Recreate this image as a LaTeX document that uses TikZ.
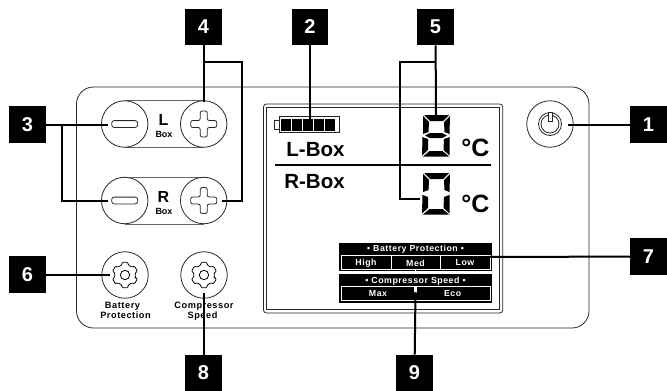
\documentclass[tikz,border=0pt]{standalone}
\usepackage{fontspec}
\setmainfont{Liberation Sans}
\newfontfamily\spacedfont[LetterSpace=6]{Liberation Sans}
\usetikzlibrary{calc}

\tikzset{
    tagbox/.style={fill=black,text=white,minimum size=36.5pt,inner sep=0pt,font=\bfseries\fontsize{20}{20}\selectfont},
    leader/.style={line width=2pt,black},
    button/.style={circle,draw=black!85,line width=0.8pt,minimum size=46.5pt,inner sep=0pt},
    outline/.style={draw=black!85,line width=0.8pt},
    lcdtext/.style={inner sep=0pt,anchor=base,font=\bfseries\fontsize{20.5}{20.5}\selectfont},
    smalltext/.style={inner sep=0pt,anchor=base,font=\spacedfont\bfseries\fontsize{9.2}{9.2}\selectfont},
    paneltext/.style={inner sep=0pt,text=white,font=\spacedfont\bfseries\fontsize{8.8}{8.8}\selectfont}
}

% one digit of the display: corner at (#1,#2), #3 = 1 draws the middle bar
\newcommand{\sevenseg}[3]{
    \fill[black] (#1+2,#2) -- (#1+27,#2) -- (#1+21,#2+6) -- (#1+8,#2+6) -- cycle;
    \fill[black] (#1+28,#2+1) -- (#1+27.5,#2+19) -- (#1+22.5,#2+17) -- (#1+22,#2+7) -- cycle;
    \fill[black] (#1+1,#2+1) -- (#1+7,#2+7) -- (#1+6.5,#2+17) -- (#1+1,#2+19) -- cycle;
    \fill[black] (#1+27.5,#2+22) -- (#1+27.5,#2+40.5) -- (#1+21.5,#2+35) -- (#1+22,#2+24) -- cycle;
    \fill[black] (#1+0.5,#2+22) -- (#1+6,#2+24) -- (#1+6,#2+35) -- (#1,#2+40.5) -- cycle;
    \fill[black] (#1+7.5,#2+36) -- (#1+20.5,#2+36) -- (#1+27,#2+41.5) -- (#1+1,#2+41.5) -- cycle;
    \ifnum#3=1
    \fill[black] (#1+3,#2+20.5) -- (#1+8,#2+18) -- (#1+20,#2+18) -- (#1+25,#2+20.5) -- (#1+20,#2+23) -- (#1+8,#2+23) -- cycle;
    \fi
}

% gear icon round (#1,#2)
\newcommand{\gearicon}[2]{
    \draw[line width=0.8pt,rounded corners=1pt]
        ($(#1,#2)+(15:10.5)$)
        \foreach \a in {30,90,...,330}{
            -- ($(#1,#2)+(\a-13:13)$) -- ($(#1,#2)+(\a+13:13)$) -- ($(#1,#2)+(\a+18:10.5)$) -- ($(#1,#2)+(\a+42:10.5)$)
        } -- cycle;
    \draw[line width=0.8pt] (#1,#2) circle (4.7);
}

\begin{document}
\begin{tikzpicture}[x=1pt,y=-1pt]
    \useasboundingbox (0,0) rectangle (667,391);

    % front panel
    \draw[outline,rounded corners=17pt] (76.5,87) rectangle (589,328);

    % buttons
    \draw[outline,draw=black!60] (125,100.5)--(204,100.5) (125,147.5)--(204,147.5);
    \draw[outline,draw=black!60] (125,177)--(204,177) (125,224)--(204,224);
    \node[button,fill=white] (minusL) at (124.7,124) {};
    \node[button,fill=white] (plusL) at (203.7,124) {};
    \node[button,fill=white] (minusR) at (124.7,200.5) {};
    \node[button,fill=white] (plusR) at (203.7,200.5) {};
    \node[button] (battery) at (125,275) {};
    \node[button] (compressor) at (204,275) {};
    \node[button] (power) at (550,124) {};

    \foreach \x/\y in {124.7/124,124.7/200.5}
        \draw[outline,rounded corners=2.5pt] (\x-13,\y-3.4) rectangle (\x+13,\y+3.4);
    \foreach \x/\y in {203.7/124,203.7/200.5}
        \draw[outline,rounded corners=2pt] (\x-3.5,\y-13) -- (\x+3.5,\y-13) -- (\x+3.5,\y-3.5) -- (\x+13,\y-3.5) -- (\x+13,\y+3.5) -- (\x+3.5,\y+3.5) -- (\x+3.5,\y+13) -- (\x-3.5,\y+13) -- (\x-3.5,\y+3.5) -- (\x-13,\y+3.5) -- (\x-13,\y-3.5) -- (\x-3.5,\y-3.5) -- cycle;
    \gearicon{125}{275}
    \gearicon{204}{275}

    % power icon
    \draw[outline] (550,124) circle (11.5);
    \draw[outline] (550,124) circle (9);
    \draw[outline,fill=white] (548,112) rectangle (552,121.5);

    \node[inner sep=0pt,anchor=base,font=\bfseries\fontsize{16}{16}\selectfont] (lboxL) at (163.5,125) {L};
    \node[inner sep=0pt,anchor=base,font=\bfseries\fontsize{9}{9}\selectfont] (lboxB) at (164,137.7) {Box};
    \node[inner sep=0pt,anchor=base,font=\bfseries\fontsize{16}{16}\selectfont] (rboxR) at (163.5,202) {R};
    \node[inner sep=0pt,anchor=base,font=\bfseries\fontsize{9}{9}\selectfont] (rboxB) at (164,214.5) {Box};
    \node[smalltext] (batteryA) at (122.5,308) {Battery};
    \node[smalltext] (batteryB) at (125.5,318.5) {Protection};
    \node[smalltext] (compressorA) at (204,308) {Compressor};
    \node[smalltext] (compressorB) at (202.5,318.5) {Speed};

    % display
    \draw[outline,rounded corners=3pt] (263.5,104) rectangle (502.7,313);
    \draw[outline] (266,107) rectangle (499.5,309.5);

    \draw[outline] (274,120) rectangle (279,129);
    \draw[outline,fill=white] (279,116.5) rectangle (339,132.5);
    \foreach \x in {281,292,303,314,325}
        \fill[black] (\x,118.5) rectangle (\x+10,130.5);

    \node[lcdtext] (lboxtext) at (315.5,156) {L-Box};
    \node[lcdtext] (rboxtext) at (314.5,188) {R-Box};
    \draw[line width=2pt] (275,164.5) -- (491,164.5);

    \sevenseg{422}{115}{1}
    \sevenseg{422}{173}{0}
    \node[inner sep=0pt,anchor=base,font=\bfseries\fontsize{25}{25}\selectfont] (degreeL) at (475.5,156) {°C};
    \node[inner sep=0pt,anchor=base,font=\bfseries\fontsize{25}{25}\selectfont] (degreeR) at (475.5,212.7) {°C};

    % mode panels
    \fill[black] (339.3,242.7) rectangle (491.7,271);
    \draw[white,line width=0.7pt] (341.5,255.7) rectangle (490,269.3) (391,255.7) -- (391,269.3) (440,255.7) -- (440,269.3);
    \node[paneltext] (bptitle) at (415.5,249.3) {• Battery Protection •};
    \node[paneltext] (bphigh) at (366,263) {High};
    \node[paneltext] (bpmed) at (415.5,263) {Med};
    \node[paneltext] (bplow) at (465,263) {Low};

    \fill[black] (339.3,274) rectangle (491.7,302.5);
    \draw[white,line width=0.7pt] (341.5,286.3) rectangle (490,300.5);
    \node[paneltext] (cstitle) at (415.5,281) {• Compressor Speed •};
    \node[paneltext] (csmax) at (378,294) {Max};
    \node[paneltext] (cseco) at (452.6,294) {Eco};
    \draw[white,line width=2.5pt] (415.5,287) -- (415.5,292.5);
    \draw[white,line width=1.5pt] (415.5,269.5) -- (415.5,271);

    % numbered tags
    \node[tagbox] (tagone) at (648.5,124.5) {1};
    \node[tagbox] (tagtwo) at (310,27) {2};
    \node[tagbox] (tagthree) at (27.5,124.5) {3};
    \node[tagbox] (tagfour) at (203.5,27) {4};
    \node[tagbox] (tagfive) at (435.5,27) {5};
    \node[tagbox] (tagsix) at (27.5,274.5) {6};
    \node[tagbox] (tagseven) at (648.5,256.5) {7};
    \node[tagbox] (tageight) at (203.5,373) {8};
    \node[tagbox] (tagnine) at (414.5,373) {9};

    \coordinate (endone) at (568,124.5);
    \coordinate (endtwo) at (310,119);
    \coordinate (endminusL) at (108,124.5);
    \coordinate (endminusR) at (108,200.5);
    \coordinate (endplusL) at (203.5,102);
    \coordinate (endplusR) at (222,200.5);
    \coordinate (enddigitL) at (436,115);
    \coordinate (enddigitR) at (420,199);
    \coordinate (endsix) at (110,274.5);
    \coordinate (endseven) at (487,257);
    \coordinate (endeight) at (203.5,293);
    \coordinate (endnine) at (415.5,292);

    % leaders
    \draw[leader] (tagone) -- (endone);
    \draw[leader] (tagtwo) -- (endtwo);
    \draw[leader] (tagthree) -- (endminusL);
    \draw[leader] (61.5,124.5) -- (61.5,200.5) -- (endminusR);
    \draw[leader] (tagfour) -- (endplusL);
    \draw[leader] (203.5,61.7) -- (241.5,61.7) -- (241.5,200.5) -- (endplusR);
    \draw[leader] (tagfive) -- (enddigitL);
    \draw[leader] (436,61.7) -- (399.5,61.7) -- (399.5,199) -- (enddigitR);
    \draw[leader] (tagsix) -- (endsix);
    \draw[leader] (tagseven) -- (endseven);
    \draw[leader] (tageight) -- (endeight);
    \draw[leader] (tagnine) -- (endnine);
\end{tikzpicture}
\end{document}
